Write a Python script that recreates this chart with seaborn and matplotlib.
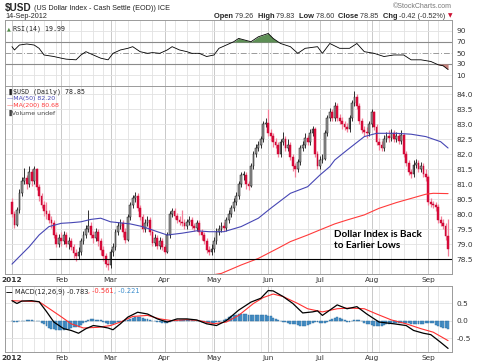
import numpy as np
import pandas as pd
import matplotlib
matplotlib.use("Agg")
import matplotlib.pyplot as plt
import seaborn as sns

# ---------------- data ----------------
holidays = ["2012-01-16", "2012-02-20", "2012-04-06", "2012-05-28", "2012-07-04", "2012-09-03"]
month_labels = ["2012", "Feb", "Mar", "Apr", "May", "Jun", "Jul", "Aug", "Sep"]

closes = [80.00, 79.65, 80.15, 80.70, 81.10, 81.20, 81.00, 81.40, 81.10, 81.50,
          80.90, 80.60, 80.30, 80.10, 80.00, 79.80, 79.70, 79.30, 79.00, 79.20,
          79.10, 79.30, 79.00, 79.10, 78.90, 78.70, 78.60, 78.75, 79.10, 79.30,
          79.50, 79.60, 79.30, 79.20, 79.40, 79.10, 78.80, 78.60, 78.35, 78.30,
          78.75, 78.90, 79.40, 79.60, 79.70, 79.40, 79.15, 79.90, 80.30, 80.55,
          80.60, 80.20, 79.90, 79.50, 79.70, 79.80, 79.40, 79.05, 79.20, 78.95,
          79.10, 78.90, 78.75, 79.30, 80.00, 80.10, 79.95, 79.80, 79.75, 79.70,
          79.60, 79.75, 79.80, 79.60, 79.55, 79.70, 79.40, 79.30, 79.10, 78.80,
          78.75, 78.85, 79.10, 79.40, 79.50, 79.60, 79.55, 79.80, 80.00, 80.20,
          80.40, 80.60, 81.00, 81.30, 81.30, 81.00, 80.95, 81.60, 82.00, 82.20,
          82.30, 82.50, 83.00, 83.05, 82.70, 82.60, 82.40, 82.30, 82.00, 82.40,
          82.50, 82.20, 82.30, 81.90, 81.60, 81.50, 81.75, 82.20, 82.30, 82.55,
          82.40, 82.70, 82.85, 82.00, 81.60, 81.80, 81.85, 82.70, 83.20, 83.40,
          83.20, 83.60, 83.20, 83.10, 83.00, 82.90, 82.85, 83.20, 83.70, 83.90,
          83.60, 83.10, 82.80, 82.75, 82.70, 83.00, 83.40, 82.90, 82.40, 82.30,
          82.20, 82.50, 82.60, 82.55, 82.70, 82.50, 82.60, 82.45, 82.65, 82.00,
          81.70, 81.40, 81.35, 81.65, 81.70, 81.50, 81.60, 81.35, 81.25, 80.40,
          80.35, 80.30, 80.25, 79.80, 79.70, 79.60, 79.26, 78.85]
first_open = 80.40
opens = [first_open] + closes[:-1]

highs = [80.55, 80.10, 80.25, 80.85, 81.25, 81.55, 81.30, 81.60, 81.50, 81.60,
         81.55, 81.00, 80.70, 80.45, 80.40, 80.15, 79.95, 79.80, 79.40, 79.35,
         79.40, 79.45, 79.40, 79.25, 79.20, 79.00, 78.85, 78.90, 79.20, 79.45,
         79.65, 80.15, 79.75, 79.45, 79.55, 79.50, 79.20, 78.95, 78.70, 78.50,
         78.85, 79.05, 79.50, 79.75, 79.85, 79.80, 79.55, 80.00, 80.40, 80.65,
         80.75, 80.70, 80.30, 80.00, 79.85, 79.95, 79.90, 79.50, 79.35, 79.30,
         79.25, 79.20, 79.00, 79.40, 80.10, 80.20, 80.20, 80.05, 79.95, 80.15,
         79.85, 79.85, 79.95, 79.90, 79.70, 79.80, 79.80, 79.50, 79.40, 79.20,
         78.95, 79.00, 79.25, 79.55, 79.65, 79.75, 79.75, 79.90, 80.15, 80.30,
         80.55, 80.75, 81.10, 81.40, 81.45, 81.40, 81.10, 81.70, 82.10, 82.35,
         82.45, 82.60, 83.10, 83.20, 83.50, 82.85, 82.70, 82.55, 82.40, 82.50,
         82.75, 82.60, 82.50, 82.40, 82.00, 81.70, 81.85, 82.30, 82.45, 82.70,
         82.65, 82.85, 82.95, 82.90, 82.10, 81.95, 82.00, 82.80, 83.30, 83.55,
         83.50, 83.75, 83.70, 83.35, 83.25, 83.10, 83.05, 83.30, 83.80, 84.10,
         84.00, 83.70, 83.20, 82.95, 82.90, 83.10, 83.50, 83.45, 83.00, 82.55,
         82.45, 82.65, 82.75, 82.80, 82.85, 82.80, 82.75, 82.70, 82.80, 82.70,
         82.10, 81.80, 81.50, 81.80, 81.85, 81.80, 81.75, 81.70, 81.50, 81.30,
         80.55, 80.45, 80.40, 80.35, 79.95, 79.85, 79.70, 79.83]
lows = [79.90, 79.55, 79.60, 80.05, 80.60, 81.00, 80.85, 80.90, 80.95, 81.00,
        80.80, 80.45, 80.20, 79.95, 79.85, 79.70, 79.55, 79.20, 78.90, 78.90,
        78.95, 79.00, 78.90, 78.85, 78.80, 78.55, 78.45, 78.50, 78.65, 79.00,
        79.20, 79.40, 79.20, 79.05, 79.10, 78.95, 78.65, 78.45, 78.25, 78.13,
        78.20, 78.60, 78.80, 79.30, 79.50, 79.25, 79.05, 79.10, 79.80, 80.20,
        80.40, 80.10, 79.80, 79.40, 79.40, 79.60, 79.30, 78.95, 78.95, 78.85,
        78.85, 78.80, 78.68, 78.70, 79.20, 79.90, 79.85, 79.70, 79.65, 79.60,
        79.50, 79.50, 79.65, 79.50, 79.45, 79.45, 79.30, 79.15, 79.00, 78.70,
        78.65, 78.65, 78.75, 79.00, 79.30, 79.40, 79.45, 79.45, 79.70, 79.90,
        80.10, 80.30, 80.50, 80.90, 81.15, 80.85, 80.80, 80.90, 81.50, 81.90,
        82.10, 82.20, 82.40, 82.90, 82.60, 82.45, 82.25, 82.20, 81.90, 81.90,
        82.30, 82.10, 82.10, 81.80, 81.45, 81.25, 81.40, 81.65, 82.10, 82.20,
        82.30, 82.30, 82.60, 81.90, 81.50, 81.50, 81.70, 81.80, 82.60, 83.10,
        83.10, 83.10, 83.10, 83.00, 82.85, 82.80, 82.75, 82.75, 83.10, 83.60,
        83.50, 83.00, 82.70, 82.60, 82.55, 82.60, 82.90, 82.80, 82.30, 82.15,
        82.10, 82.10, 82.40, 82.40, 82.45, 82.40, 82.40, 82.35, 82.35, 81.90,
        81.60, 81.30, 81.20, 81.25, 81.55, 81.40, 81.40, 81.25, 81.10, 80.30,
        80.25, 80.20, 80.10, 79.70, 79.60, 79.50, 79.15, 78.60]

ma50_day = [0, 3, 7, 11, 15, 20, 24, 28, 32, 36, 40, 48, 53, 59, 63, 69, 75, 80, 86,
            93, 100, 105, 113, 120, 125, 129, 131, 136, 143, 148, 156, 162, 168, 174, 177]
ma50_val = [78.33, 78.58, 78.91, 79.30, 79.58, 79.69, 79.71, 79.74, 79.82, 79.86, 79.74,
            79.67, 79.58, 79.41, 79.30, 79.36, 79.44, 79.41, 79.41, 79.58, 79.86, 80.19,
            80.69, 80.91, 81.30, 81.58, 81.80, 82.13, 82.58, 82.69, 82.69, 82.66, 82.58,
            82.41, 82.20]
ma200_day = [80, 85, 93, 100, 108, 113, 120, 125, 131, 136, 143, 149, 156, 162, 168, 171, 177]
ma200_val = [77.95, 78.02, 78.30, 78.52, 78.86, 79.08, 79.30, 79.47, 79.67, 79.80, 79.97,
             80.19, 80.38, 80.52, 80.66, 80.69, 80.68]
support_level = 78.5
support_start_day = 15
note_text = "Dollar Index is Back\nto Earlier Lows"
note_day, note_price = 130.7, 79.12

rsi_day = [0, 1, 3, 6, 9, 11, 13, 17, 20, 22, 26, 28, 30, 33, 36, 39, 41, 44, 47, 49,
           52, 55, 57, 60, 63, 65, 68, 71, 73, 76, 79, 82, 84, 87, 90, 92, 97, 100, 104,
           106, 109, 113, 116, 119, 124, 126, 129, 133, 137, 140, 143, 147, 151, 155, 159,
           162, 166, 170, 173, 175, 177]
rsi_val = [61.5, 55.5, 64.5, 66.4, 64.5, 58.5, 46.4, 43.6, 40.6, 38.8, 37.6, 46.4, 52.4,
           46.4, 40.6, 37.6, 49.4, 55.5, 58.5, 61.5, 52.4, 49.4, 50.7, 49.4, 55.5, 61.5,
           55.5, 52.4, 49.4, 49.4, 43.6, 46.4, 58.5, 64.5, 70.5, 76.5, 70.5, 79.5, 85.5,
           76.5, 67.3, 61.5, 49.4, 58.5, 61.5, 49.4, 67.3, 58.5, 58.5, 67.3, 52.4, 49.4,
           43.6, 46.4, 46.4, 37.6, 37.6, 34.6, 28.6, 26.8, 19.99]

macd_day = [0, 2, 4, 8, 11, 14, 17, 21, 24, 27, 30, 33, 36, 39, 41, 44, 47, 51, 55, 59,
            63, 67, 71, 75, 79, 83, 87, 92, 97, 101, 104, 106, 110, 114, 118, 122, 124,
            126, 129, 132, 136, 140, 144, 149, 155, 160, 163, 167, 170, 174, 177]
macd_val = [0.58, 0.50, 0.57, 0.58, 0.55, 0.27, -0.03, -0.22, -0.27, -0.35, -0.22, -0.13,
            -0.16, -0.20, -0.25, -0.08, 0.11, 0.25, 0.20, 0.06, -0.03, 0.06, 0.06, 0.03,
            -0.08, -0.13, 0.01, 0.31, 0.54, 0.65, 0.87, 0.86, 0.70, 0.50, 0.23, 0.26, 0.29,
            0.16, 0.31, 0.46, 0.35, 0.41, 0.20, -0.03, -0.08, -0.13, -0.27, -0.35, -0.39,
            -0.61, -0.783]
signal_day = [0, 11, 15, 20, 24, 29, 35, 40, 44, 49, 55, 60, 65, 71, 76, 82, 87, 92, 98,
              102, 106, 110, 116, 120, 126, 132, 137, 143, 148, 154, 160, 166, 171, 177]
signal_val = [0.58, 0.55, 0.36, 0.12, -0.08, -0.20, -0.18, -0.13, -0.03, 0.13, 0.16, 0.06,
              0.01, 0.04, 0.01, -0.08, -0.03, 0.16, 0.50, 0.67, 0.77, 0.70, 0.50, 0.35,
              0.26, 0.35, 0.37, 0.35, 0.20, 0.03, -0.08, -0.22, -0.32, -0.561]
hist = [0.00, -0.04, -0.02, 0.00, 0.01, 0.01, 0.02, 0.02, 0.02, 0.01,
        0.01, 0.00, -0.05, -0.10, -0.15, -0.20, -0.22, -0.24, -0.25, -0.26,
        -0.27, -0.26, -0.24, -0.22, -0.20, -0.18, -0.18, -0.17, -0.12, -0.07,
        -0.03, 0.02, 0.05, 0.06, 0.04, 0.03, 0.02, -0.02, -0.05, -0.08,
        -0.10, -0.10, -0.07, -0.04, -0.02, 0.00, 0.02, 0.04, 0.06, 0.08,
        0.10, 0.11, 0.10, 0.09, 0.07, 0.05, 0.02, 0.00, -0.01, -0.02,
        -0.04, -0.05, -0.05, -0.05, -0.03, -0.01, 0.02, 0.03, 0.03, 0.02,
        0.02, 0.02, 0.02, 0.02, 0.01, 0.00, 0.00, -0.02, -0.04, -0.05,
        -0.05, -0.05, -0.05, -0.03, -0.02, 0.00, 0.03, 0.05, 0.10, 0.13,
        0.16, 0.17, 0.19, 0.20, 0.20, 0.19, 0.16, 0.17, 0.18, 0.17,
        0.16, 0.18, 0.18, 0.17, 0.15, 0.13, 0.08, 0.05, 0.03, 0.00,
        -0.02, -0.04, -0.06, -0.08, -0.10, -0.10, -0.12, -0.13, -0.14, -0.13,
        -0.12, -0.08, -0.06, -0.04, -0.02, -0.05, -0.07, -0.07, -0.03, 0.02,
        0.05, 0.08, 0.10, 0.08, 0.05, 0.03, -0.02, -0.02, -0.01, 0.03,
        0.04, 0.03, 0.00, -0.05, -0.08, -0.10, -0.12, -0.13, -0.14, -0.14,
        -0.13, -0.12, -0.10, -0.08, -0.07, -0.06, -0.05, -0.05, -0.05, -0.05,
        -0.05, -0.06, -0.08, -0.09, -0.10, -0.10, -0.09, -0.08, -0.07, -0.07,
        -0.07, -0.07, -0.12, -0.15, -0.18, -0.20, -0.21, -0.22]

# ---------------- setup ----------------
sns.set_style("white")
plt.rcParams["font.family"] = ["DejaVu Sans"]
W_PX, H_PX = 480, 363
fig = plt.figure(figsize=(4.8, 3.63), dpi=100)
fig.patch.set_facecolor("white")

dates = pd.bdate_range("2012-01-03", "2012-09-14")
dates = dates[~dates.isin(pd.to_datetime(holidays))]
n = len(dates)
idx = np.arange(n)

month_pos = [i for i in range(n) if i == 0 or dates[i].month != dates[i - 1].month]
week_pos = [i for i in range(n) if i > 0 and dates[i].weekday() < dates[i - 1].weekday()]

left, width = 5 / W_PX, 447 / W_PX
def axes_at(top, bot):
    return fig.add_axes([left, 1 - bot / H_PX, width, (bot - top) / H_PX])

ax_r = axes_at(20, 86)
ax_p = axes_at(86, 274)
ax_m = axes_at(286, 352)
XL = (-2.84, 178.6)

GRID = "#e2e2e2"
MGRID = "#c9c9c9"
for ax in (ax_r, ax_p, ax_m):
    ax.set_xlim(*XL)
    ax.set_facecolor("white")
    for s in ax.spines.values():
        s.set_color("#9a9a9a")
        s.set_linewidth(0.7)
    for w in week_pos:
        ax.axvline(w, color=GRID, lw=0.6, zorder=0)
    for m in month_pos:
        ax.axvline(m, color=MGRID, lw=0.7, zorder=0)
    ax.yaxis.tick_right()
    ax.tick_params(axis="y", length=0, pad=3, labelsize=5.3, labelcolor="#333333")
    ax.tick_params(axis="x", length=0)

# ---------------- RSI ----------------
ax_r.set_ylim(-10, 110)
ax_r.set_yticks([10, 30, 50, 70, 90])
for lv in (10, 90):
    ax_r.axhline(lv, color=GRID, lw=0.6, zorder=0)
ax_r.axhline(70, color="#8a8a8a", lw=0.8, zorder=1)
ax_r.axhline(30, color="#8a8a8a", lw=0.8, zorder=1)
ax_r.axhline(50, color="#9a9a9a", lw=0.7, ls=(0, (6, 2, 1, 2)), zorder=1)
rd = np.array(rsi_day, float)
rv = np.array(rsi_val, float)
ax_r.fill_between(rd, rv, 70, where=rv > 70, interpolate=True, color="#5d8f55", lw=0, zorder=2)
ax_r.fill_between(rd, rv, 30, where=rv < 30, interpolate=True, color="#c4807a", lw=0, zorder=2)
sns.lineplot(x=rd, y=rv, ax=ax_r, color="black", lw=0.6, zorder=3)
ax_r.set_xticks([])
ax_r.set_xlabel("")
ax_r.set_ylabel("")
ax_r.text(0.017, 0.86, "RSI(14) 19.99", transform=ax_r.transAxes, fontsize=4.8,
          family="DejaVu Sans Mono", va="center", color="#222222")
ax_r.text(0.004, 0.86, "\u25B2", transform=ax_r.transAxes, fontsize=3.5, color="#4f8a45",
          va="center")

# ---------------- Price ----------------
o = np.array(opens); c = np.array(closes); h = np.array(highs); l = np.array(lows)
ax_p.set_ylim(78.0, 84.267)
ax_p.set_yticks(np.arange(78.5, 84.01, 0.5))
ax_p.set_yticklabels([f"{v:.1f}" for v in np.arange(78.5, 84.01, 0.5)])
for v in np.arange(78.5, 84.01, 0.5):
    ax_p.axhline(v, color=GRID, lw=0.6, zorder=0)
up = c >= o
dn = ~up
ax_p.vlines(idx[dn], l[dn], h[dn], color="#f27f98", lw=0.9, zorder=2)
ax_p.vlines(idx[up], l[up], h[up], color="#111111", lw=0.6, zorder=2)
body = np.maximum(np.abs(c - o), 0.025)
ax_p.bar(idx[up], body[up], bottom=np.minimum(o, c)[up], width=0.72, color="#9b9b9b",
         edgecolor="#111111", lw=0.35, zorder=3)
ax_p.bar(idx[dn], body[dn], bottom=np.minimum(o, c)[dn], width=0.72, color="#dd0d3c",
         edgecolor="#c0002e", lw=0.3, zorder=3)
sns.lineplot(x=ma50_day, y=ma50_val, ax=ax_p, color="#4646b4", lw=0.8, zorder=4)
sns.lineplot(x=ma200_day, y=ma200_val, ax=ax_p, color="#ff3b3b", lw=0.8, zorder=4)
ax_p.hlines(support_level, support_start_day, XL[1], color="black", lw=0.8, zorder=5)
ax_p.set_xlabel(""); ax_p.set_ylabel("")
ax_p.set_xticks(month_pos)
ax_p.set_xticklabels(month_labels, fontsize=5.3, color="#333333")
ax_p.tick_params(axis="x", pad=2)
ax_p.get_xticklabels()[0].set_fontweight("bold")

ax_p.text(0.004, 0.97, "\u2590", transform=ax_p.transAxes, fontsize=4.5, color="#222", va="center")
ax_p.text(0.019, 0.97, "$USD (Daily) 78.85", transform=ax_p.transAxes, fontsize=4.8,
          family="DejaVu Sans Mono", color="#222222", va="center")
ax_p.text(0.004, 0.932, "\u2014MA(50) 82.20", transform=ax_p.transAxes, fontsize=4.5,
          color="#4646b4", va="center")
ax_p.text(0.004, 0.894, "\u2014MA(200) 80.68", transform=ax_p.transAxes, fontsize=4.5,
          color="#ff3b3b", va="center")
ax_p.text(0.004, 0.856, "\u2590Volume undef", transform=ax_p.transAxes, fontsize=4.5,
          color="#444444", va="center")
ax_p.text(note_day, note_price, note_text, fontsize=7.2,
          family="Lato", fontweight="bold", color="black", va="center", ha="left",
          linespacing=1.3, zorder=6)

# ---------------- MACD ----------------
ax_m.set_ylim(-0.886, 1.0)
ax_m.set_yticks([-0.5, 0.0, 0.5])
ax_m.set_yticklabels(["-0.5", "0.0", "0.5"])
for v in (-0.5, 0.0, 0.5):
    ax_m.axhline(v, color=GRID, lw=0.6, zorder=0)
ax_m.bar(idx, hist, width=0.8, color="#4b95cc", edgecolor="#2a6a9c", lw=0.3, zorder=2)
sns.lineplot(x=signal_day, y=signal_val, ax=ax_m, color="#ff3030", lw=0.8, zorder=3)
sns.lineplot(x=macd_day, y=macd_val, ax=ax_m, color="black", lw=0.9, zorder=4)
ax_m.set_xlabel(""); ax_m.set_ylabel("")
ax_m.set_xticks(month_pos)
ax_m.set_xticklabels(month_labels, fontsize=5.3, color="#333333")
ax_m.tick_params(axis="x", pad=2)
ax_m.get_xticklabels()[0].set_fontweight("bold")

# ---------------- header & legends (chained text) ----------------
renderer = fig.canvas.get_renderer()
def chain(x_px, y_px, parts, ha="left"):
    ts = [fig.text(0, 1 - y_px / H_PX, s, va="center", **kw) for s, kw in parts]
    ws = [t.get_window_extent(renderer).width for t in ts]
    cur = x_px - sum(ws) if ha == "right" else x_px
    for t, w in zip(ts, ws):
        t.set_x(cur / W_PX)
        cur += w

hf = "Liberation Sans"
chain(5, 8, [("$USD", dict(fontsize=7.2, fontweight="bold", family=hf)),
             (" (US Dollar Index - Cash Settle (EOD)) ICE", dict(fontsize=5.2, family=hf, color="#222"))])
fig.text(5 / W_PX, 1 - 16 / H_PX, "14-Sep-2012", fontsize=5.2, family=hf, va="center")
fig.text(452 / W_PX, 1 - 7 / H_PX, "\u00A9StockCharts.com", fontsize=5.0, family=hf,
         color="#777777", va="center", ha="right")
B = dict(fontsize=5.4, fontweight="bold", family=hf)
N = dict(fontsize=5.2, family=hf, color="#333333")
chain(452, 16, [("Open ", B), ("79.26  ", N), ("High ", B), ("79.83  ", N),
                ("Low ", B), ("78.60  ", N), ("Close ", B), ("78.85  ", N),
                ("Chg ", B), ("-0.42 (-0.52%) ", N),
                ("\u25BC", dict(fontsize=4.2, color="#cc1133", family="DejaVu Sans"))], ha="right")

M = dict(fontsize=4.8, family="DejaVu Sans")
chain(6, 291.5, [("\u2014 ", dict(fontsize=4.8, family="DejaVu Sans", color="black", fontweight="bold")),
                 ("MACD(12,26,9) -0.783", dict(M, color="#222222")),
                 (", -0.561", dict(M, color="#ff3030")),
                 (", -0.221", dict(M, color="#3a8ccc"))])

fig.savefig("out.png", dpi=100, facecolor="white")
